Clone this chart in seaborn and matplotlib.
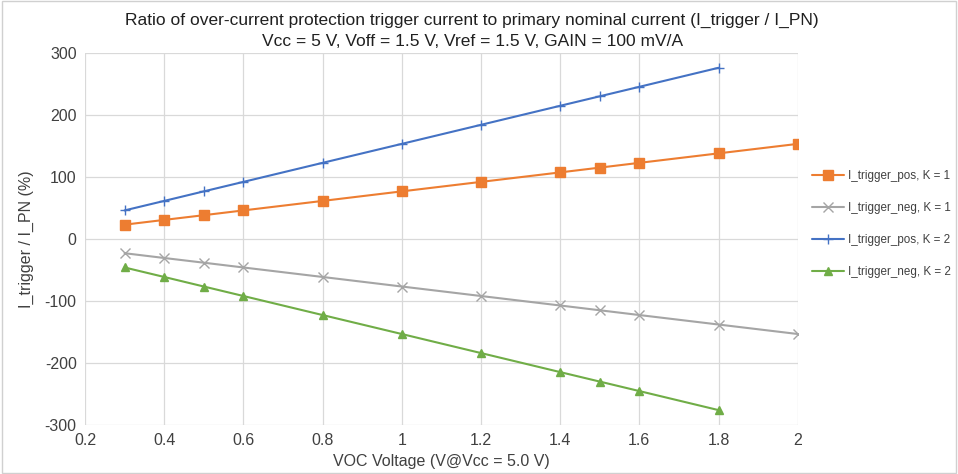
import matplotlib
matplotlib.use("Agg")
import matplotlib.pyplot as plt
import seaborn as sns
import pandas as pd
from matplotlib.patches import Rectangle

voc_k1 = [0.3, 0.4, 0.5, 0.6, 0.8, 1.0, 1.2, 1.4, 1.5, 1.6, 1.8, 2.0]
pos_k1 = [23.0, 30.7, 38.3, 46.0, 61.3, 76.7, 92.0, 107.3, 115.0, 122.7, 138.0, 153.3]
neg_k1 = [-23.0, -30.7, -38.3, -46.0, -61.3, -76.7, -92.0, -107.3, -115.0, -122.7, -138.0, -153.3]
voc_k2 = [0.3, 0.4, 0.5, 0.6, 0.8, 1.0, 1.2, 1.4, 1.5, 1.6, 1.8]
pos_k2 = [46.0, 61.3, 76.7, 92.0, 122.7, 153.3, 184.0, 214.7, 230.0, 245.3, 276.0]
neg_k2 = [-46.0, -61.3, -76.7, -92.0, -122.7, -153.3, -184.0, -214.7, -230.0, -245.3, -276.0]
series_names = ["I_trigger_pos, K = 1", "I_trigger_neg, K = 1",
                "I_trigger_pos, K = 2", "I_trigger_neg, K = 2"]
x_ticks = [0.2, 0.4, 0.6, 0.8, 1.0, 1.2, 1.4, 1.6, 1.8, 2.0]
x_tick_labels = ["0.2", "0.4", "0.6", "0.8", "1", "1.2", "1.4", "1.6", "1.8", "2"]
y_ticks = [-300, -200, -100, 0, 100, 200, 300]

colors = ["#ED7D31", "#A5A5A5", "#4472C4", "#70AD47"]
marker_list = ["s", "x", "+", "^"]
marker_sizes = [6.5, 6.5, 7, 6]

sns.set_theme(style="white")
plt.rcParams["font.family"] = ["Liberation Sans", "DejaVu Sans"]
plt.rcParams["axes.unicode_minus"] = False

fig = plt.figure(figsize=(9.58, 4.74), dpi=100)
ax = fig.add_axes([0.0887, 0.1034, 0.744, 0.785])

for name, xs, ys, c, m, ms in zip(series_names, [voc_k1, voc_k1, voc_k2, voc_k2],
                                  [pos_k1, neg_k1, pos_k2, neg_k2], colors, marker_list, marker_sizes):
    d = pd.DataFrame({"VOC": xs, "ratio": ys})
    sns.lineplot(data=d, x="VOC", y="ratio", color=c, marker=m, markersize=ms,
                 markeredgecolor=c, markerfacecolor=c, markeredgewidth=1.0,
                 linewidth=1.5, ax=ax, label=name)

ax.set_xlim(0.2, 2.0)
ax.set_ylim(-300, 300)
ax.set_xticks(x_ticks)
ax.set_xticklabels(x_tick_labels)
ax.set_yticks(y_ticks)
ax.tick_params(axis="both", labelsize=11.5, colors="#404040", length=0, pad=6)
ax.grid(True, color="#D9D9D9", linewidth=0.9)
for s in ax.spines.values():
    s.set_visible(False)

ax.set_xlabel("VOC Voltage (V@Vcc = 5.0 V)", fontsize=11.5, color="#404040", labelpad=4)
ax.set_ylabel("I_trigger / I_PN (%)", fontsize=11.5, color="#404040", labelpad=8)
fig.suptitle("Ratio of over-current protection trigger current to primary nominal current (I_trigger / I_PN)\n"
             "Vcc = 5 V, Voff = 1.5 V, Vref = 1.5 V, GAIN = 100 mV/A",
             x=0.493, y=0.972, fontsize=12.5, color="#202020", linespacing=1.45, va="top")

leg = ax.legend(loc="center left", bbox_to_anchor=(1.008, 0.54), frameon=False,
                fontsize=8.4, labelspacing=1.7, handlelength=2.8, handletextpad=0.35,
                borderaxespad=0.3, labelcolor="#404040")

fig.patches.append(Rectangle((0.002, 0.002), 0.996, 0.995, transform=fig.transFigure,
                             fill=False, edgecolor="#D0D0D0", linewidth=1.0))

fig.savefig("out.png", dpi=100)
